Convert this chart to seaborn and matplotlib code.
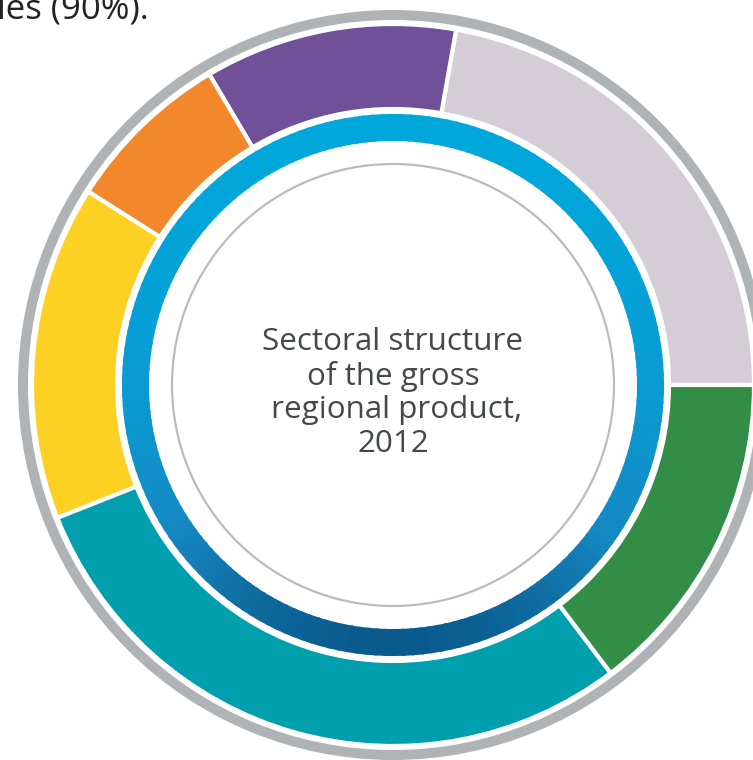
import numpy as np
import matplotlib
matplotlib.use("Agg")
from matplotlib import pyplot as plt
from matplotlib.patches import Circle, Wedge
import seaborn as sns

# sector shares of the gross regional product (%), counter-clockwise from 3 o'clock
sectors = ["Services A", "Services B", "Services C", "Industry", "Public services", "Agriculture"]
shares = [22.2, 11.3, 7.5, 15.0, 29.3, 14.7]
sector_colors = ["#D5CDD6", "#71509A", "#F2872C", "#FDD124", "#009FAE", "#328D46"]

centre_text = "Sectoral structure\nof the gross\n regional product,\n2012"
top_text = "ies (90%)."

sns.set_theme(style="white")
plt.rcParams["font.family"] = ["Open Sans", "DejaVu Sans"]

fig = plt.figure(figsize=(7.53, 7.60), dpi=100)
ax = fig.add_axes([0, 0, 1, 1])
ax.set_aspect("equal")
ax.axis("off")

# outer grey rim
ax.add_patch(Circle((0, 0), 370, facecolor="none", edgecolor="#AFB3B5", lw=7.2))

# sector ring
ax.pie(shares, colors=sector_colors, startangle=0, counterclock=True,
       radius=361, center=(0, 0), frame=True,
       wedgeprops=dict(width=85, edgecolor="white", linewidth=3))

# blue gradient ring, light at the top and dark at the bottom
n_steps = 180
blues = sns.blend_palette(["#00A7DA", "#0A9AD2", "#1588C2", "#0A5A8C"], 101)
for i in range(n_steps):
    a0 = 360 * i / n_steps
    a1 = 360 * (i + 1) / n_steps + 0.6
    mid = np.deg2rad((a0 + a1) / 2)
    t = ((1 - np.sin(mid)) / 2) ** 1.6
    ax.add_patch(Wedge((0, 0), 271, a0, a1, width=27, facecolor=blues[int(t * 100)],
                       edgecolor="none"))

# thin inner circle
ax.add_patch(Circle((0, 0), 221, facecolor="none", edgecolor="#B9BCBE", lw=1.6))

ax.set_xlim(-393, 360)
ax.set_ylim(-375, 385)

ax.text(0, -8, centre_text, ha="center", va="center", fontsize=22.6,
        color="#45484B", linespacing=1.16)
fig.text(-0.004, 1.01, top_text, ha="left", va="top", fontsize=25, color="#222222")

fig.savefig("out.png", dpi=100)
